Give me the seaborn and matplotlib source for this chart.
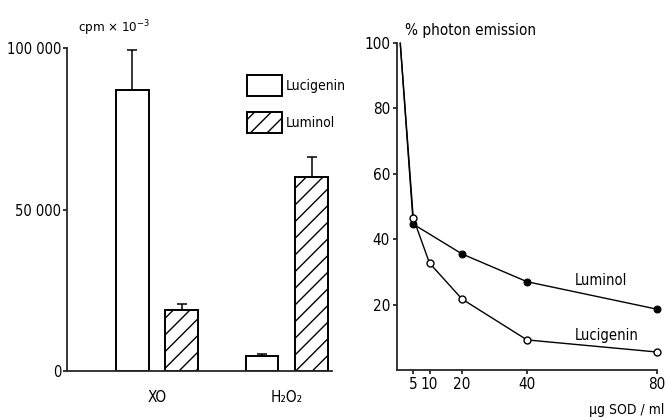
import matplotlib
matplotlib.use("Agg")
import matplotlib.pyplot as plt
import pandas as pd
import seaborn as sns

# left panel: chemiluminescence (cpm x 10^-3)
stimuli = ["XO", "H₂O₂"]
probes = ["Lucigenin", "Luminol"]
cpm_lucigenin = [87000, 4600]
cpm_luminol = [18900, 60000]
err_lucigenin = [12500, 700]
err_luminol = [1800, 6300]

# right panel: % photon emission vs SOD
sod_lucigenin = [1, 5, 10, 20, 40, 80]
pct_lucigenin = [100, 46.5, 32.7, 21.7, 9.2, 5.5]
sod_luminol = [1, 5, 20, 40, 80]
pct_luminol = [100, 44.6, 35.5, 27.0, 18.6]

FONT = ["DejaVu Sans"]

sns.set_theme(style="ticks")
plt.rcParams.update({
    "font.family": FONT,
    "font.stretch": "condensed",
    "font.size": 10,
    "mathtext.fontset": "custom",
    "mathtext.rm": "DejaVu Sans:stretch=condensed",
    "mathtext.it": "DejaVu Sans:stretch=condensed",
    "axes.linewidth": 1.3,
    "hatch.linewidth": 1.0,
    "xtick.major.width": 1.1,
    "ytick.major.width": 1.1,
    "xtick.major.size": 3,
    "ytick.major.size": 3,
    "text.color": "black",
    "xtick.color": "black",
    "ytick.color": "black",
})

fig = plt.figure(figsize=(6.67, 4.18), dpi=100)
W, H = 667, 418


def px_axes(x0, y_top, x1, y_bottom):
    return fig.add_axes([x0 / W, 1 - y_bottom / H, (x1 - x0) / W, (y_bottom - y_top) / H])


# ---- left: bar chart
ax1 = px_axes(67, 48, 332, 371)
df = pd.DataFrame({
    "stimulus": stimuli * 2,
    "probe": [p for p in probes for _ in stimuli],
    "cpm": cpm_lucigenin + cpm_luminol,
})
sns.barplot(
    data=df, x="stimulus", y="cpm", hue="probe", order=stimuli, hue_order=probes,
    palette=["white", "white"], edgecolor="black", linewidth=1.4,
    width=0.766, gap=0.34, errorbar=None, ax=ax1,
)
for bar in ax1.containers[1]:
    bar.set_hatch("//")

for container, errs in zip(ax1.containers, [err_lucigenin, err_luminol]):
    for bar, e in zip(container, errs):
        xc = bar.get_x() + bar.get_width() / 2
        ax1.errorbar(xc, bar.get_height(), yerr=[[0], [e]], fmt="none",
                     ecolor="black", elinewidth=1.1, capsize=3.5, capthick=1.1)

ax1.set_xlim(-0.693, 1.347)
ax1.set_ylim(0, 100000)
ax1.set_yticks([0, 50000, 100000])
ax1.set_yticklabels(["0", "50 000", "100 000"])
ax1.tick_params(axis="x", length=0, pad=14, labelsize=11)
ax1.tick_params(axis="y", pad=1, labelsize=10.5)
ax1.set_xlabel("")
ax1.set_ylabel("")
sns.despine(ax=ax1)
ax1.legend(
    handles=[ax1.containers[0][0], ax1.containers[1][0]], labels=probes,
    loc="upper left", bbox_to_anchor=(247 / W, 1 - 75 / H), bbox_transform=fig.transFigure,
    frameon=False, borderpad=0, borderaxespad=0, handlelength=2.5, handleheight=1.9,
    labelspacing=1.2, handletextpad=0.3, fontsize=10,
)
fig.text(78 / W, 1 - 28 / H, "cpm × 10$^{-3}$", ha="left", va="center", fontsize=9.5)

# ---- right: line chart
ax2 = px_axes(397, 43, 657, 370)
sns.lineplot(x=sod_luminol, y=pct_luminol, ax=ax2, color="black", linewidth=1.0,
             marker="o", markersize=5, markerfacecolor="black", markeredgecolor="black",
             markevery=list(range(1, len(sod_luminol))), clip_on=False)
sns.lineplot(x=sod_lucigenin, y=pct_lucigenin, ax=ax2, color="black", linewidth=1.0,
             marker="o", markersize=5, markerfacecolor="white", markeredgecolor="black",
             markeredgewidth=1.0, markevery=list(range(1, len(sod_lucigenin))), clip_on=False)
ax2.set_xlim(0, 80)
ax2.set_ylim(0, 100)
ax2.set_xticks([5, 10, 20, 40, 80])
ax2.set_yticks([20, 40, 60, 80, 100])
ax2.tick_params(axis="both", pad=2, labelsize=11)
sns.despine(ax=ax2)
ax2.text(54.8, 27.5, "Luminol", ha="left", va="center", fontsize=10.5)
ax2.text(54.8, 10.7, "Lucigenin", ha="left", va="center", fontsize=10.5)
fig.text(405 / W, 1 - 31 / H, "% photon emission", ha="left", va="center", fontsize=11)
fig.text(589 / W, 1 - 410 / H, "μg SOD / ml", ha="left", va="center", fontsize=10)

fig.savefig("out.png", dpi=100)
